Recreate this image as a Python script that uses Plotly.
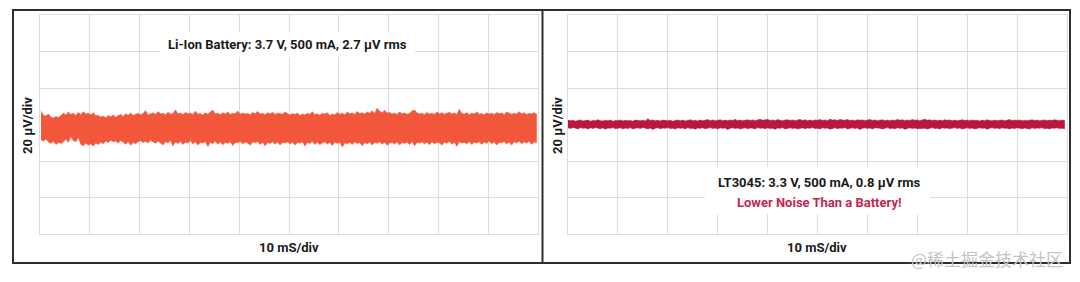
import plotly.graph_objects as go

# ---------------- data (µV envelopes) ----------------
left_t = [0.2 + 0.5 * i for i in range(200)]  # ms sample positions
left_upper = [
    7.2, 5.1, 4.6, 5.8, 4.0, 3.6, 4.4, 3.8, 4.9, 6.3, 5.2, 6.8, 5.5, 6.1, 5.0, 6.6, 5.4, 7.0, 5.7, 6.2,
    5.3, 6.5, 4.8, 5.0, 4.1, 4.6, 3.7, 4.9, 4.3, 5.2, 4.0, 4.7, 5.6, 4.4, 5.9, 5.1, 6.3, 5.0, 5.7, 6.1,
    5.4, 6.0, 7.6, 5.2, 5.8, 6.4, 5.5, 7.1, 5.9, 6.2, 5.3, 6.7, 5.6, 6.0, 8.0, 5.8, 6.3, 5.4, 6.6, 5.9,
    6.1, 5.5, 7.3, 5.7, 6.0, 5.2, 6.4, 5.6, 6.8, 7.9, 5.8, 6.2, 5.4, 6.5, 5.7, 6.9, 5.5, 6.1, 5.9, 7.4,
    5.6, 6.3, 5.8, 6.0, 5.3, 6.6, 5.9, 7.2, 5.7, 6.1, 5.4, 6.4, 5.8, 6.7, 5.5, 6.2, 6.0, 5.6, 6.8, 5.9,
    5.2, 6.0, 5.5, 6.3, 4.9, 5.8, 5.3, 6.1, 5.6, 7.0, 5.4, 5.9, 5.1, 6.2, 5.7, 6.5, 5.0, 5.8, 5.4, 6.6,
    5.6, 6.1, 5.3, 6.8, 5.9, 6.3, 5.5, 7.1, 6.0, 6.4, 5.7, 6.9, 6.2, 7.5, 6.1, 8.9, 7.2, 6.5, 7.8, 6.3,
    6.6, 5.8, 6.2, 5.5, 6.9, 5.9, 6.3, 5.6, 6.0, 7.4, 7.9, 6.4, 5.8, 6.1, 5.4, 6.6, 5.7, 6.2, 5.5, 6.8,
    5.9, 6.4, 5.6, 6.1, 6.7, 5.8, 6.3, 5.5, 8.4, 6.0, 5.7, 6.5, 5.4, 6.2, 5.8, 6.9, 5.6, 6.0, 5.3, 6.4,
    5.7, 6.1, 5.5, 6.6, 5.9, 6.3, 5.4, 6.8, 6.0, 5.6, 6.2, 5.8, 7.0, 5.9, 6.4, 5.5, 6.1, 5.7, 6.5, 5.8,
]
left_lower = [
    -8.4, -9.1, -8.0, -9.6, -10.3, -9.2, -11.0, -9.8, -10.4, -9.5, -8.1, -9.7, -6.5, -8.8, -9.4, -7.0, -10.9, -11.6, -10.2, -11.3,
    -10.6, -11.8, -10.1, -11.0, -9.7, -10.5, -9.0, -9.8, -8.6, -9.5, -9.1, -10.2, -8.7, -9.6, -10.8, -9.3, -11.4, -9.9, -10.5, -9.4,
    -8.9, -9.8, -9.2, -10.1, -8.6, -9.5, -10.3, -9.1, -9.9, -11.2, -9.4, -10.0, -8.8, -11.7, -9.6, -10.4, -9.2, -10.9, -9.7, -10.2,
    -8.9, -10.6, -9.5, -11.3, -9.8, -10.1, -9.3, -12.0, -9.7, -10.5, -9.1, -10.8, -9.6, -11.1, -9.9, -10.3, -9.4, -11.5, -9.8, -10.0,
    -9.2, -10.7, -9.6, -10.2, -11.4, -9.5, -10.0, -9.3, -10.9, -9.7, -11.6, -9.9, -10.4, -9.4, -10.8, -9.6, -11.2, -9.8, -10.1, -9.5,
    -10.6, -9.7, -11.3, -9.9, -10.2, -9.5, -11.8, -9.8, -10.4, -9.2, -10.9, -9.6, -11.1, -10.0, -9.4, -10.7, -9.8, -11.5, -9.6, -10.3,
    -9.9, -12.3, -10.1, -10.6, -9.7, -11.0, -9.5, -10.4, -9.8, -11.7, -10.0, -10.5, -9.6, -11.2, -9.9, -10.3, -9.4, -10.8, -9.7, -11.4,
    -10.2, -9.8, -10.7, -9.5, -11.3, -9.9, -10.4, -9.6, -10.9, -9.3, -11.6, -9.8, -10.2, -9.5, -10.6, -9.7, -11.1, -9.4, -10.5, -9.8,
    -10.0, -11.4, -9.6, -10.3, -9.2, -10.8, -9.7, -11.9, -9.5, -10.1, -9.8, -10.6, -9.3, -11.0, -9.7, -10.2, -9.4, -10.9, -9.6, -10.4,
    -9.1, -10.5, -9.5, -11.2, -9.8, -10.0, -9.3, -10.7, -9.6, -11.3, -9.4, -10.1, -9.0, -10.6, -9.5, -10.2, -9.2, -10.8, -9.6, -9.9,
]

right_t = [0.0 + 0.5 * i for i in range(200)]
right_upper = [
    2.4, 2.0, 2.3, 1.8, 2.2, 2.5, 1.9, 2.1, 2.4, 1.8, 2.2, 2.0, 2.6, 2.1, 1.9, 2.3, 2.0, 2.4, 1.8, 2.2,
    2.1, 2.5, 1.9, 2.3, 2.0, 2.2, 1.8, 2.4, 2.1, 2.0, 2.3, 1.9, 3.1, 2.2, 2.5, 2.0, 2.3, 1.9, 2.4, 2.1,
    2.0, 2.3, 1.8, 2.2, 2.5, 2.0, 2.4, 1.9, 2.2, 2.6, 2.1, 2.3, 1.9, 2.4, 2.0, 2.2, 2.7, 2.1, 2.5, 2.0,
    2.3, 2.6, 2.1, 2.4, 2.0, 2.5, 2.2, 2.8, 2.1, 2.4, 2.0, 2.3, 2.6, 2.2, 2.5, 2.1, 2.4, 2.9, 2.3, 2.6,
    2.8, 2.2, 2.5, 2.1, 2.7, 2.3, 2.0, 2.4, 2.6, 2.2, 2.5, 2.1, 2.3, 2.8, 2.2, 2.6, 2.1, 2.4, 2.0, 2.5,
    2.3, 2.7, 2.2, 2.5, 2.1, 2.9, 2.4, 2.6, 2.2, 2.8, 2.5, 2.3, 2.7, 2.2, 2.4, 2.0, 2.6, 2.3, 2.5, 2.1,
    2.4, 2.7, 2.2, 2.5, 2.0, 2.3, 2.6, 2.1, 2.4, 2.0, 2.5, 2.2, 2.8, 2.3, 2.6, 2.1, 2.4, 2.2, 2.7, 2.3,
    2.5, 2.1, 2.4, 2.9, 2.3, 2.6, 2.2, 2.5, 2.1, 2.4, 2.0, 2.6, 2.3, 2.5, 2.1, 2.4, 2.0, 2.3, 2.6, 2.2,
    2.4, 2.1, 2.5, 2.2, 2.3, 1.9, 2.4, 2.1, 2.6, 2.2, 2.0, 2.4, 2.1, 2.3, 2.5, 2.0, 2.2, 2.7, 2.1, 2.4,
    2.2, 2.5, 2.0, 2.3, 2.1, 2.4, 2.6, 2.2, 2.4, 2.0, 2.3, 2.5, 2.1, 2.4, 2.2, 2.6, 2.3, 2.1, 2.4, 2.2,
]
right_lower = [
    -1.8, -2.2, -1.6, -2.0, -2.4, -1.7, -2.1, -1.9, -2.5, -1.8, -2.2, -1.6, -2.0, -2.3, -1.8, -2.6, -1.9, -2.1, -1.7, -2.3,
    -2.0, -1.8, -2.4, -1.9, -2.2, -1.7, -2.5, -2.0, -1.8, -2.2, -1.6, -2.1, -2.4, -1.9, -2.7, -2.0, -1.8, -2.3, -1.9, -2.1,
    -1.7, -2.2, -2.0, -2.5, -1.8, -2.1, -1.9, -2.4, -1.7, -2.2, -2.0, -2.6, -1.9, -2.1, -1.8, -2.3, -2.0, -1.7, -2.2, -1.9,
    -2.4, -1.8, -2.1, -1.9, -2.8, -2.0, -1.8, -2.2, -1.9, -2.5, -2.1, -1.8, -2.3, -1.9, -2.0, -2.4, -1.7, -2.1, -1.9, -2.3,
    -1.8, -2.2, -2.0, -2.6, -1.9, -2.1, -1.7, -2.4, -2.0, -1.8, -2.2, -1.9, -2.5, -2.0, -1.8, -2.3, -1.9, -2.1, -1.7, -2.2,
    -2.0, -2.4, -1.8, -2.1, -1.9, -2.6, -2.0, -1.8, -2.3, -1.9, -2.1, -1.7, -2.4, -2.0, -1.8, -2.2, -1.9, -2.7, -2.0, -1.8,
    -2.2, -1.9, -2.4, -1.8, -2.1, -2.0, -2.5, -1.9, -1.7, -2.2, -2.0, -2.3, -1.8, -2.1, -1.9, -2.6, -2.0, -1.8, -2.2, -1.9,
    -2.3, -1.8, -2.1, -2.0, -2.5, -1.9, -1.7, -2.2, -2.0, -2.4, -1.8, -2.1, -1.9, -2.3, -2.0, -1.7, -2.2, -1.9, -2.5, -2.0,
    -1.8, -2.2, -1.9, -2.4, -2.0, -1.8, -2.1, -1.9, -2.6, -2.0, -1.7, -2.2, -1.9, -2.3, -1.8, -2.1, -2.0, -2.4, -1.9, -2.2,
    -1.8, -2.1, -2.3, -1.9, -2.0, -2.5, -1.8, -2.2, -1.9, -2.1, -1.7, -2.3, -2.0, -2.4, -1.9, -2.1, -1.8, -2.2, -2.0, -2.3,
]

left_title = "Li-Ion Battery: 3.7 V, 500 mA, 2.7 µV rms"
right_title = "LT3045: 3.3 V, 500 mA, 0.8 µV rms"
right_sub = "Lower Noise Than a Battery!"
y_label = "20 µV/div"
x_label = "10 mS/div"
watermark = "@稀土掘金技术社区"

# ---------------- styling ----------------
W, H = 1080, 282
LEFT_COLOR = "#F2573B"
RIGHT_COLOR = "#B9173F"
ACCENT = "#C4264F"
GRID = "#dcdcdc"
FRAME = "#2e2e2e"
FONT = "Roboto"


def px(x):
    return x / W


def py(y):
    return 1 - y / H


fig = go.Figure()

# band = upper envelope forward + lower envelope backward
fig.add_trace(go.Scatter(
    x=left_t + left_t[::-1], y=left_upper + left_lower[::-1],
    fill="toself", fillcolor=LEFT_COLOR, mode="lines",
    line=dict(color=LEFT_COLOR, width=0.6), xaxis="x", yaxis="y",
    hoverinfo="skip", showlegend=False,
))
fig.add_trace(go.Scatter(
    x=right_t + right_t[::-1], y=right_upper + right_lower[::-1],
    fill="toself", fillcolor=RIGHT_COLOR, mode="lines",
    line=dict(color=RIGHT_COLOR, width=0.6), xaxis="x2", yaxis="y2",
    hoverinfo="skip", showlegend=False,
))

ydom = [py(234), py(15)]
axis_common = dict(showgrid=True, gridcolor=GRID, gridwidth=1, zeroline=False,
                   showticklabels=False, ticks="", showline=True, linecolor=GRID,
                   linewidth=1, mirror=True, fixedrange=True)

fig.update_layout(
    width=W, height=H,
    margin=dict(l=0, r=0, t=0, b=0),
    paper_bgcolor="white", plot_bgcolor="white",
    xaxis=dict(domain=[px(40), px(538)], range=[0, 100], dtick=10, anchor="y", **axis_common),
    yaxis=dict(domain=ydom, range=[-60, 60], dtick=20, anchor="x", **axis_common),
    xaxis2=dict(domain=[px(568), px(1067)], range=[0, 100], dtick=10, anchor="y2", **axis_common),
    yaxis2=dict(domain=ydom, range=[-60, 60], dtick=20, anchor="x2", **axis_common),
)

shapes = [
    dict(type="rect", xref="paper", yref="paper", x0=px(13), x1=px(1070), y0=py(263), y1=py(10),
         line=dict(color=FRAME, width=2), fillcolor="rgba(0,0,0,0)", layer="above"),
    dict(type="line", xref="paper", yref="paper", x0=px(542.5), x1=px(542.5), y0=py(263), y1=py(10),
         line=dict(color=FRAME, width=2), layer="above"),
    dict(type="rect", xref="paper", yref="paper", x0=px(160), x1=px(415), y0=py(57), y1=py(32),
         line=dict(width=0), fillcolor="white", layer="above"),
    dict(type="rect", xref="paper", yref="paper", x0=px(705), x1=px(930), y0=py(214), y1=py(167),
         line=dict(width=0), fillcolor="white", layer="above"),
]
fig.update_layout(shapes=shapes)

bold = dict(family=FONT, size=13, color="#1a1a1a", weight=700)
ann = [
    dict(text=left_title, x=px(287), y=py(45), font=bold),
    dict(text=right_title, x=px(819), y=py(182), font=bold),
    dict(text=right_sub, x=px(819), y=py(202), font=dict(family=FONT, size=13, color=ACCENT, weight=700)),
    dict(text=y_label, x=px(27), y=py(126), font=bold, textangle=-90),
    dict(text=y_label, x=px(557), y=py(126), font=bold, textangle=-90),
    dict(text=x_label, x=px(289), y=py(247), font=bold),
    dict(text=x_label, x=px(817), y=py(247), font=bold),
    dict(text=watermark, x=px(987), y=py(258), font=dict(family="Noto Sans CJK SC", size=17, color="#c4c4c4")),
]
for a in ann:
    a.update(xref="paper", yref="paper", xanchor="center", yanchor="middle", showarrow=False)
fig.update_layout(annotations=ann)

fig.write_html("out.html", config={"displayModeBar": False})
